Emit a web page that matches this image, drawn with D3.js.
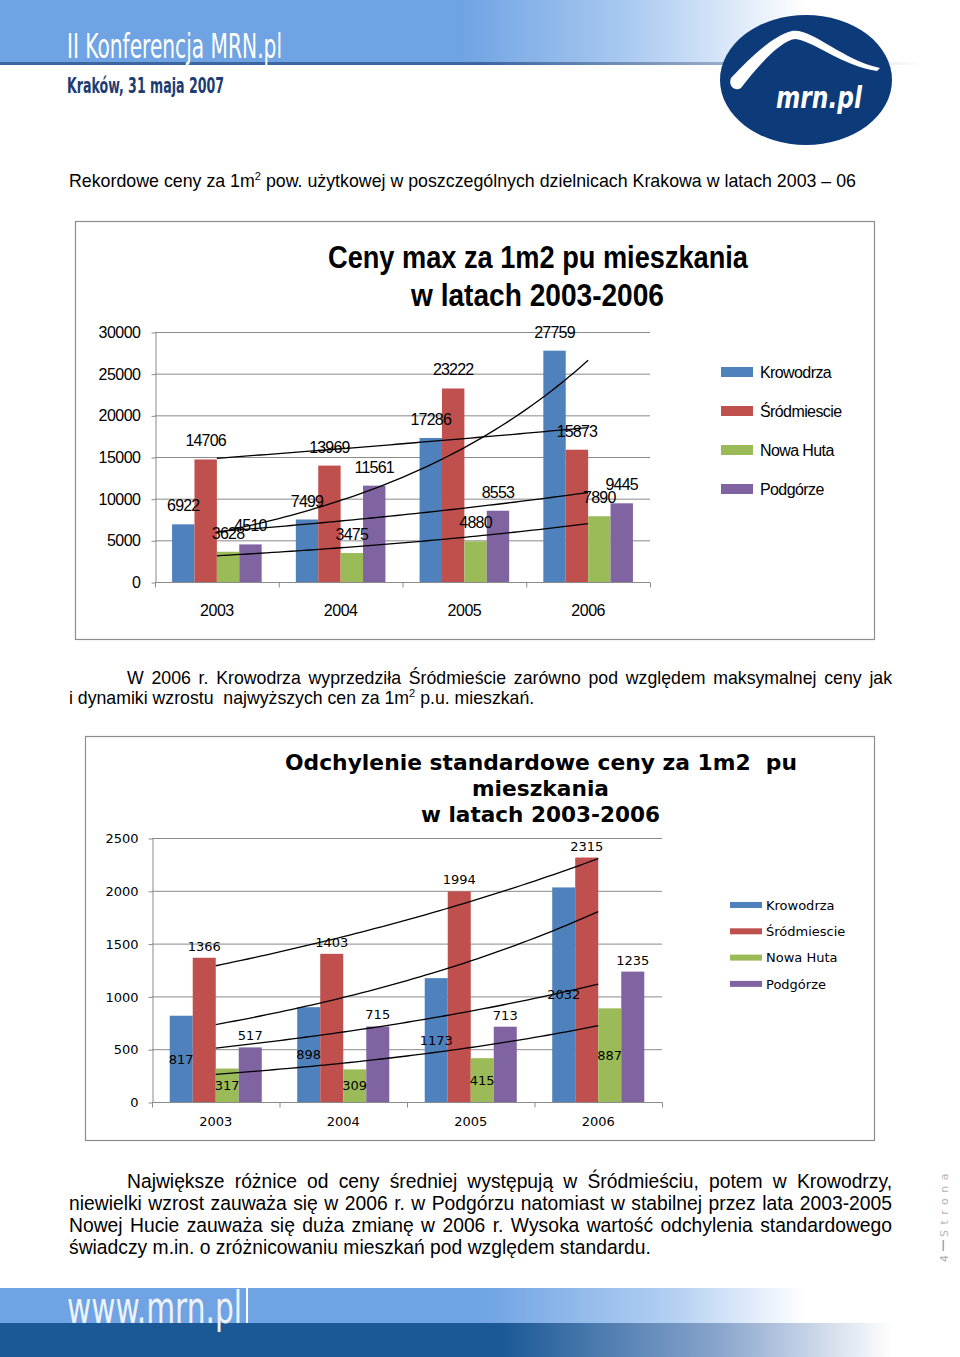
<!DOCTYPE html>
<html>
<head>
<meta charset="utf-8">
<script src="https://cdn.jsdelivr.net/npm/d3@7"></script>
<style>
body { margin: 0; background: #fff; }
svg { display: block; }
</style>
</head>
<body>
<script>
// ---- data ----
const years = ["2003", "2004", "2005", "2006"]
const districts = ["Krowodrza", "Śródmiescie", "Nowa Huta", "Podgórze"]
const colors = ["#4F81BD", "#C0504D", "#9BBB59", "#8064A2"]

// chart 1: max price per m2
const maxKrowodrza = [6922, 7499, 17286, 27759]
const maxSrodmiescie = [14706, 13969, 23222, 15873]
const maxNowaHuta = [3628, 3475, 4880, 7890]
const maxPodgorze = [4510, 11561, 8553, 9445]
const ticksMax = [0, 5000, 10000, 15000, 20000, 25000, 30000]

// chart 2: standard deviation
const sdKrowodrza = [817, 898, 1173, 2032]
const sdSrodmiescie = [1366, 1403, 1994, 2315]
const sdNowaHuta = [317, 309, 415, 887]
const sdPodgorze = [517, 715, 713, 1235]
const ticksSd = [0, 500, 1000, 1500, 2000, 2500]

// "²" is drawn as a superscript 2
const para1 = ["Rekordowe ceny za 1m² pow. użytkowej w poszczególnych dzielnicach Krakowa w latach 2003 – 06"]
const para2 = ["W 2006 r. Krowodrza wyprzedziła Śródmieście zarówno pod względem maksymalnej ceny jak",
               "i dynamiki wzrostu  najwyższych cen za 1m² p.u. mieszkań."]
const para3 = ["Największe różnice od ceny średniej występują w Śródmieściu, potem w Krowodrzy,",
               "niewielki wzrost zauważa się w 2006 r. w Podgórzu natomiast w stabilnej przez lata 2003-2005",
               "Nowej Hucie zauważa się duża zmianę w 2006 r. Wysoka wartość odchylenia standardowego",
               "świadczy m.in. o zróżnicowaniu mieszkań pod względem standardu."]

// ---- helpers ----
function setattrs(shape, dict) {
    for (let [prop, val] of Object.entries(dict)) {
        shape.attr(prop, val)
    }
}

// Excel style exponential trendline, v = a*e^(b*x)
function expFit(vals) {
    const xs = d3.range(vals.length)
    const ls = vals.map(Math.log)
    const mx = d3.mean(xs), ml = d3.mean(ls)
    const b = d3.sum(xs, (x, i) => (x - mx) * (ls[i] - ml)) / d3.sum(xs, x => (x - mx) ** 2)
    const a = Math.exp(ml - b * mx)
    return t => a * Math.exp(b * t)
}

const svg = d3.select("body").append("svg")
setattrs(svg, {"width": 960, "height": 1357})
const defs = svg.append("defs")

function gradient(id, stops) {
    const gr = defs.append("linearGradient").attr("id", id)
    for (let [o, c] of stops) gr.append("stop").attr("offset", o).attr("stop-color", c)
}
gradient("topband", [[0, "#6fa3e3"], [0.48, "#6fa3e3"], [0.65, "#a8c8f0"], [0.84, "#ffffff"]])
gradient("topline", [[0, "#3b66a0"], [0.5, "#3b66a0"], [0.8, "#a9b9d2"], [0.96, "#ffffff"]])
gradient("footlight", [[0, "#6fa3e3"], [0.5, "#6fa3e3"], [0.7, "#b3cff2"], [0.84, "#ffffff"]])
gradient("footdark", [[0, "#1a5896"], [0.52, "#1a5896"], [0.75, "#8aa5cc"], [0.93, "#ffffff"]])

// ---- header ----
setattrs(svg.append("rect"), {"x": 0, "y": 0, "width": 960, "height": 62, "fill": "url(#topband)"})
setattrs(svg.append("rect"), {"x": 0, "y": 62, "width": 960, "height": 3, "fill": "url(#topline)"})
setattrs(svg.append("text").text("II Konferencja MRN.pl"), {
    "x": 67, "y": 58, "font-family": "'Liberation Sans Narrow', 'DejaVu Sans Condensed', sans-serif",
    "font-size": 34, "fill": "#fff", "textLength": 215, "lengthAdjust": "spacingAndGlyphs"})
setattrs(svg.append("text").text("Kraków, 31 maja 2007"), {
    "x": 67, "y": 93, "font-family": "'Liberation Sans Narrow', 'DejaVu Sans Condensed', sans-serif",
    "font-size": 22, "font-weight": "bold", "fill": "#1d3d72", "textLength": 157, "lengthAdjust": "spacingAndGlyphs"})

// logo
setattrs(svg.append("ellipse"), {"cx": 806, "cy": 80, "rx": 86, "ry": 65, "fill": "#0d3b7a"})
setattrs(svg.append("path"), {
    "d": "M 731 78 C 750 58, 772 36, 792 31 C 812 28, 842 60, 880 68 L 877 71 C 842 66, 812 40, 795 39 C 780 41, 758 66, 741 88 C 734 92, 728 85, 731 78 Z",
    "fill": "#fff"})
setattrs(svg.append("text").text("mrn.pl"), {
    "x": 776, "y": 108, "font-family": "'DejaVu Sans', sans-serif", "font-size": 30,
    "font-weight": "bold", "font-style": "italic", "fill": "#fff", "textLength": 86, "lengthAdjust": "spacingAndGlyphs"})

// ---- paragraphs ----
function paragraph(lines, opts) {
    lines.forEach((str, i) => {
        const x = i === 0 ? opts.indent : opts.x0
        const t = svg.append("text")
        setattrs(t, {"x": x, "y": opts.y + i * opts.lh, "font-family": opts.font,
            "font-size": opts.fs, "fill": "#000", "style": "white-space: pre"})
        str.split("²").forEach((part, k) => {
            if (k > 0) {
                setattrs(t.append("tspan").text("2"), {"font-size": opts.fs * 0.62, "dy": -opts.fs * 0.38})
                t.append("tspan").text(part).attr("dy", opts.fs * 0.38)
            } else {
                t.append("tspan").text(part)
            }
        })
        if (opts.justify && i < lines.length - 1) {
            const w = t.node().getComputedTextLength()
            const n = (str.match(/ /g) || []).length
            t.attr("word-spacing", (opts.x1 - x - w) / n)
        }
    })
}

paragraph(para1, {x0: 69, indent: 69, x1: 892, y: 187, lh: 20, fs: 17.8, font: "Arial, 'Liberation Sans', sans-serif", justify: false})
paragraph(para2, {x0: 69, indent: 127, x1: 892, y: 684, lh: 20, fs: 17.7, font: "Arial, 'Liberation Sans', sans-serif", justify: true})
paragraph(para3, {x0: 69, indent: 127, x1: 892, y: 1188, lh: 22, fs: 19.3, font: "Arial, 'Liberation Sans', sans-serif", justify: true})

// ---- charts ----
function drawChart(c) {
    const g = svg.append("g")
    setattrs(g.append("rect"), {"x": c.box[0] + 0.5, "y": c.box[1] + 0.5, "width": c.box[2], "height": c.box[3],
        "fill": "#fff", "stroke": "#8c8c8c", "stroke-width": 1.2})

    const x = d3.scaleBand().domain(years).range([c.x0, c.x1]).paddingInner(c.pad).paddingOuter(c.pad / 2)
    const xs = d3.scaleBand().domain(districts).range([0, x.bandwidth()])
    const y = d3.scaleLinear().domain([0, c.max]).range([c.y1, c.y0])
    const grid = "#8a8a8a"

    // gridlines
    g.append("g").selectAll("line").data(c.ticks.slice(1)).join("line")
        .attr("x1", c.x0).attr("x2", c.x1)
        .attr("y1", d => y(d) + 0.5).attr("y2", d => y(d) + 0.5)
        .attr("stroke", grid).attr("stroke-width", 1)

    // y axis
    const ya = g.append("g").attr("transform", `translate(${c.x0 + 0.5},0.5)`)
        .call(d3.axisLeft(y).tickValues(c.ticks).tickFormat(d3.format("d"))
            .tickSize(4).tickSizeOuter(0).tickPadding(c.yPad))
    setattrs(ya, {"font-family": c.font, "font-size": c.fs})
    ya.select(".domain").attr("stroke", grid)
    ya.selectAll(".tick line").attr("stroke", grid)
    ya.selectAll("text").attr("fill", "#000").attr("letter-spacing", c.ls)

    // x axis: labels at centres, ticks between categories
    const xa = g.append("g").attr("transform", `translate(0,${c.y1 + 0.5})`)
        .call(d3.axisBottom(x).tickSize(0).tickSizeOuter(0).tickPadding(c.xPad))
    setattrs(xa, {"font-family": c.font, "font-size": c.fs})
    xa.select(".domain").attr("stroke", grid).attr("d", `M${c.x0},0H${c.x1}`)
    xa.selectAll("text").attr("fill", "#000").attr("dy", "0.71em").attr("letter-spacing", c.ls)
    const bounds = d3.range(years.length + 1).map(i => c.x0 + i * x.step())
    xa.selectAll(".sep").data(bounds).join("line").attr("class", "sep")
        .attr("x1", d => d + 0.5).attr("x2", d => d + 0.5).attr("y1", 0).attr("y2", 5)
        .attr("stroke", grid)

    // bars
    c.series.forEach((vals, s) => {
        g.append("g").selectAll("rect").data(vals).join("rect")
            .attr("x", (d, i) => x(years[i]) + xs(districts[s]))
            .attr("y", d => y(d))
            .attr("width", xs.bandwidth())
            .attr("height", d => y(0) - y(d))
            .attr("fill", colors[s])
    })

    // exponential trendlines from first to last category centre
    const xc = t => x(years[0]) + x.bandwidth() / 2 + t * x.step()
    c.series.forEach(vals => {
        const f = expFit(vals)
        const pts = d3.range(0, vals.length - 1 + 0.001, 0.05).map(t => [xc(t), y(f(t))])
        setattrs(g.append("path"), {
            "d": d3.line()(pts), "fill": "none", "stroke": "#000", "stroke-width": 1.3})
    })

    // data labels
    c.series.forEach((vals, s) => {
        g.append("g").selectAll("text").data(vals).join("text")
            .text(d => d)
            .attr("x", (d, i) => x(years[i]) + xs(districts[s]) + xs.bandwidth() / 2)
            .attr("y", d => c.labelMode[s] === "center" ? y(d / 2) + c.fs * 0.36 : y(d) - c.labelGap)
            .attr("text-anchor", "middle")
            .attr("font-family", c.font).attr("font-size", c.fs)
            .attr("letter-spacing", c.lblLs)
    })

    // legend
    districts.forEach((name, s) => {
        const cy = c.legY + s * c.legDy
        setattrs(g.append("rect"), {"x": c.legX, "y": cy - c.legH / 2, "width": 32, "height": c.legH, "fill": colors[s]})
        setattrs(g.append("text").text(name), {"x": c.legX + c.legGap, "y": cy + c.fs * 0.36,
            "font-family": c.font, "font-size": c.fs, "letter-spacing": c.legLs})
    })

    // title
    c.title.forEach(tl => {
        setattrs(g.append("text").text(tl.text), {"x": tl.x, "y": tl.y, "font-family": c.titleFont,
            "font-size": c.titleFs, "font-weight": "bold", "textLength": tl.len,
            "lengthAdjust": "spacingAndGlyphs", "style": "white-space: pre"})
    })
}

drawChart({
    box: [75, 221, 799, 418], x0: 155, x1: 650, y0: 332, y1: 582, pad: 0.276,
    max: 30000, ticks: ticksMax,
    series: [maxKrowodrza, maxSrodmiescie, maxNowaHuta, maxPodgorze],
    labelMode: ["end", "end", "end", "end"], labelGap: 13,
    font: "Arial, 'Liberation Sans', sans-serif", fs: 16, ls: -0.5, lblLs: -0.8, yPad: 11, xPad: 22,
    legX: 721, legY: 372, legDy: 39, legH: 10, legGap: 39, legLs: -0.6,
    titleFont: "Arial, 'Liberation Sans', sans-serif", titleFs: 31,
    title: [{text: "Ceny max za 1m2 pu mieszkania", x: 328, y: 268, len: 420},
            {text: "w latach 2003-2006", x: 411, y: 306, len: 253}]
})

drawChart({
    box: [85, 736, 789, 404], x0: 152, x1: 662, y0: 838, y1: 1102, pad: 0.278,
    max: 2500, ticks: ticksSd,
    series: [sdKrowodrza, sdSrodmiescie, sdNowaHuta, sdPodgorze],
    labelMode: ["center", "end", "center", "end"], labelGap: 7,
    font: "'DejaVu Sans', Verdana, sans-serif", fs: 13, ls: 0, lblLs: 0, yPad: 10, xPad: 14,
    legX: 730, legY: 905, legDy: 26.3, legH: 6, legGap: 36, legLs: 0,
    titleFont: "'DejaVu Sans', Verdana, sans-serif", titleFs: 20.5,
    title: [{text: "Odchylenie standardowe ceny za 1m2  pu", x: 285, y: 770, len: 512},
            {text: "mieszkania", x: 472, y: 796, len: 137},
            {text: "w latach 2003-2006", x: 421, y: 822, len: 239}]
})

// ---- page number ----
const pn = svg.append("g").attr("transform", "translate(948,1262) rotate(-90)")
setattrs(pn.append("text").text("4"), {"x": 0, "y": 0, "font-family": "'DejaVu Sans', sans-serif", "font-size": 11, "fill": "#a8a8a8"})
setattrs(pn.append("rect"), {"x": 11, "y": -5.5, "width": 11, "height": 1.6, "fill": "#a8a8a8"})
setattrs(pn.append("text").text("Strona"), {"x": 25, "y": 0, "font-family": "'DejaVu Sans', sans-serif",
    "font-size": 11, "fill": "#b4b4b4", "letter-spacing": 5.5})

// ---- footer ----
setattrs(svg.append("rect"), {"x": 0, "y": 1288, "width": 960, "height": 35, "fill": "url(#footlight)"})
setattrs(svg.append("rect"), {"x": 0, "y": 1323, "width": 960, "height": 34, "fill": "url(#footdark)"})
setattrs(svg.append("rect"), {"x": 246, "y": 1288, "width": 2, "height": 35, "fill": "#fff"})
setattrs(svg.append("text").text("www.mrn.pl"), {
    "x": 67, "y": 1323, "font-family": "'Liberation Sans Narrow', 'DejaVu Sans Condensed', sans-serif",
    "font-size": 45, "fill": "#eef3fb", "textLength": 175, "lengthAdjust": "spacingAndGlyphs"})
</script>
</body>
</html>
